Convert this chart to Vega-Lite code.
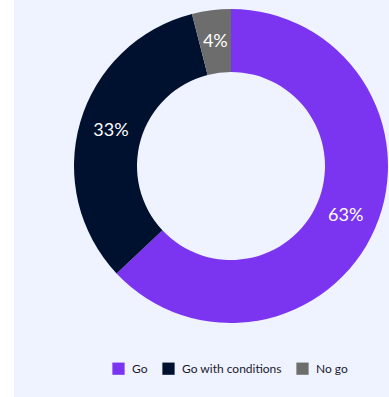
{
  "$schema": "https://vega.github.io/schema/vega-lite/v6.json",
  "width": 375,
  "height": 397,
  "padding": {"left": 14, "top": 0, "right": 0, "bottom": 0},
  "autosize": {"type": "none"},
  "background": "#ffffff",
  "view": {"fill": "#EFF3FF", "stroke": null},
  "config": {
    "font": "Lato"
  },
  "data": {
    "values": [
      {"category": "Go", "value": 63, "label": "63%"},
      {"category": "Go with conditions", "value": 33, "label": "33%"},
      {"category": "No go", "value": 4, "label": "4%"}
    ]
  },
  "encoding": {
    "theta": {"field": "value", "type": "quantitative", "stack": true},
    "order": {"field": "value", "type": "quantitative", "sort": "descending"}
  },
  "layer": [
    {
      "mark": {"type": "arc", "outerRadius": 157, "innerRadius": 94, "xOffset": 29.5, "yOffset": -32.5},
      "encoding": {
        "color": {
          "field": "category",
          "type": "nominal",
          "scale": {"domain": ["Go", "Go with conditions", "No go"], "range": ["#7B35F1", "#00112F", "#6D6D6D"]},
          "legend": {
            "title": null,
            "orient": "none",
            "direction": "horizontal",
            "legendX": 98,
            "legendY": 362,
            "symbolType": "square",
            "symbolSize": 150,
            "symbolStrokeWidth": 0,
            "labelFontSize": 12,
            "labelColor": "#1a1a2e",
            "labelFont": "Lato",
            "labelOffset": 7,
            "columnPadding": 14
          }
        }
      }
    },
    {
      "mark": {"type": "text", "radius": 125, "xOffset": 29.5, "yOffset": -32.5, "fontSize": 18, "color": "#ffffff"},
      "encoding": {
        "text": {"field": "label", "type": "nominal"}
      }
    }
  ]
}
